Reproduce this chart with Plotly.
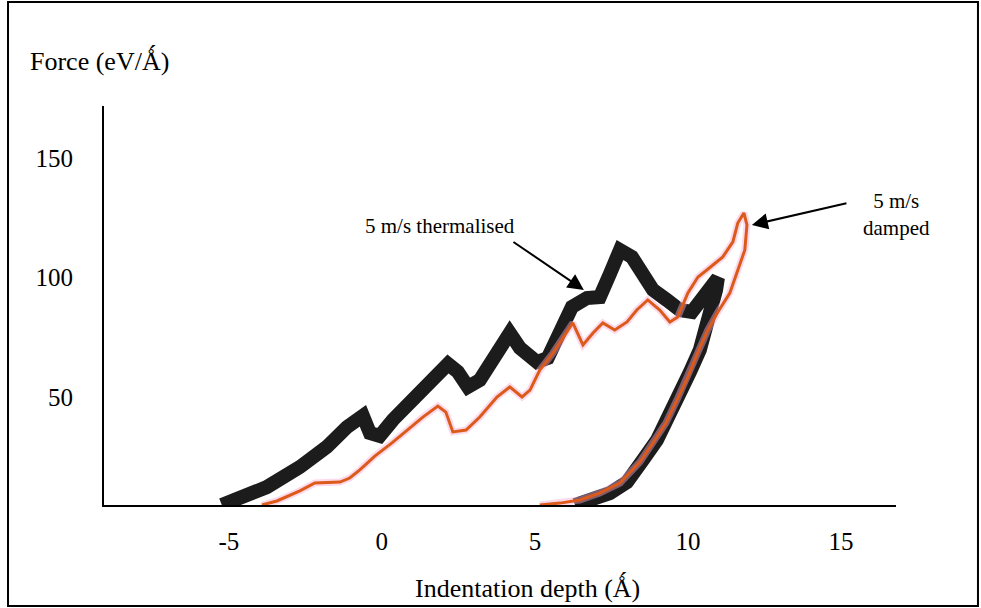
import plotly.graph_objects as go

# ---- data ----
therm_x = [-5.23, -4.48, -3.76, -2.68, -1.80, -1.14, -0.78, -0.62, -0.39, -0.07, 0.36, 1.01, 1.67,
           2.16, 2.48, 2.81, 3.20, 3.76, 4.18, 4.51, 5.07, 5.42, 5.82, 6.21, 6.70, 7.12, 7.45, 7.78,
           8.17, 8.53, 8.86, 9.31, 9.74, 10.13, 10.49, 10.78, 10.98,
           10.92, 10.65, 10.39, 10.07, 9.74, 9.41, 8.99, 8.53, 8.01, 7.45, 6.80, 6.31]
therm_y = [4.8, 8.2, 12.3, 20.7, 29.1, 37.4, 41.2, 42.1, 34.9, 33.7, 40.4, 48.7, 55.9,
           63.8, 60.5, 54.2, 57.1, 68.8, 76.8, 70.5, 64.6, 66.3, 76.8, 87.7, 91.4, 91.8, 101.5, 111.5,
           108.6, 101.9, 94.8, 90.6, 86.4, 85.6, 91.4, 96.9, 99.8,
           94.8, 82.2, 69.7, 60.5, 50.8, 42.5, 32.0, 23.6, 14.4, 9.8, 6.1, 4.8]

damp_x = [-3.92, -3.43, -2.68, -2.19, -1.37, -1.05, -0.72, -0.23, 0.33, 0.82, 1.34, 1.83, 2.09,
          2.32, 2.75, 3.20, 3.76, 4.18, 4.58, 4.84, 5.16, 5.59, 6.05, 6.24, 6.57, 6.90, 7.22, 7.61,
          8.01, 8.33, 8.69, 9.08, 9.41, 9.67, 10.00, 10.33, 10.78, 11.14, 11.47, 11.63, 11.83,
          11.93, 11.86, 11.60, 11.37, 10.98, 10.65, 10.33, 10.00, 9.64, 9.28, 8.86, 8.43, 7.78,
          7.12, 6.47, 5.82, 5.16]
damp_y = [4.8, 6.5, 10.7, 14.0, 14.4, 16.1, 19.5, 25.3, 30.8, 36.2, 41.6, 46.2, 43.7,
          35.4, 36.2, 41.6, 50.0, 54.2, 50.0, 52.9, 61.3, 68.4, 77.2, 81.0, 71.8, 76.8, 81.0, 78.0,
          81.4, 86.4, 90.6, 86.4, 81.4, 83.5, 93.5, 100.2, 104.8, 108.6, 114.9, 122.8, 127.0,
          122.0, 111.5, 102.3, 93.5, 85.6, 78.0, 68.8, 58.4, 48.7, 39.1, 30.8, 22.8, 14.0,
          9.8, 6.9, 5.6, 4.8]

x_ticks = [-5, 0, 5, 10, 15]
x_tick_text = ["-5", "0", "5", "10", "15"]
y_ticks = [50, 100, 150]

FONT = "Liberation Serif, Times New Roman, serif"

fig = go.Figure()
fig.add_trace(go.Scatter(x=therm_x, y=therm_y, mode="lines",
                         line=dict(color="#1c1c1c", width=14), hoverinfo="skip",
                         showlegend=False))
fig.add_trace(go.Scatter(x=damp_x, y=damp_y, mode="lines",
                         line=dict(color="rgba(248,170,210,0.45)", width=7), hoverinfo="skip",
                         showlegend=False))
fig.add_trace(go.Scatter(x=damp_x, y=damp_y, mode="lines",
                         line=dict(color="#dc5a1a", width=3), showlegend=False))

fig.update_layout(
    width=981, height=608,
    margin=dict(l=104, r=85, t=106, b=103),
    paper_bgcolor="white", plot_bgcolor="white",
    font=dict(family=FONT, size=25, color="black"),
    xaxis=dict(range=[-9.08, 16.80], tickvals=x_ticks, ticktext=x_tick_text, ticks="",
               showgrid=False, zeroline=False, showline=True, linecolor="black", linewidth=2,
               ticklabelstandoff=13, tickfont=dict(family=FONT, size=25)),
    yaxis=dict(range=[4.81, 171.76], tickvals=y_ticks, ticks="", showgrid=False,
               zeroline=False, showline=True, linecolor="black", linewidth=2,
               ticklabelstandoff=24, tickfont=dict(family=FONT, size=25)),
    shapes=[dict(type="rect", xref="paper", yref="paper",
                 x0=-0.1212, x1=1.1035, y0=-0.2531, y1=1.2607,
                 line=dict(color="black", width=2), layer="below")],
)

# axis titles
fig.add_annotation(text="Force (eV/Ǻ)", xref="paper", yref="paper", x=-0.096, y=1.115,
                   xanchor="left", yanchor="middle", showarrow=False,
                   font=dict(family=FONT, size=26))
fig.add_annotation(text="Indentation depth (Ǻ)", xref="paper", yref="paper",
                   x=(527 - 104) / 792, y=(505 - 587) / 399,
                   xanchor="center", yanchor="middle", showarrow=False,
                   font=dict(family=FONT, size=26))

# labels + arrows
fig.add_annotation(text="5 m/s thermalised", x=1.90, y=121.5, xref="x", yref="y",
                   showarrow=False, font=dict(family=FONT, size=21))
fig.add_annotation(text="", x=6.60, y=94.8, ax=4.25, ay=115.3, xref="x", yref="y",
                   axref="x", ayref="y", showarrow=True, arrowhead=2, arrowsize=1.6,
                   arrowwidth=2, arrowcolor="black")
fig.add_annotation(text="5 m/s<br>damped", x=16.80, y=126.2, xref="x", yref="y",
                   showarrow=False, font=dict(family=FONT, size=21))
fig.add_annotation(text="", x=12.09, y=122.0, ax=15.23, ay=131.2, xref="x", yref="y",
                   axref="x", ayref="y", showarrow=True, arrowhead=2, arrowsize=1.6,
                   arrowwidth=2, arrowcolor="black")

fig.write_html("out.html", config={"displayModeBar": False},
               post_script="document.body.style.margin='0';document.body.style.overflow='hidden';")
